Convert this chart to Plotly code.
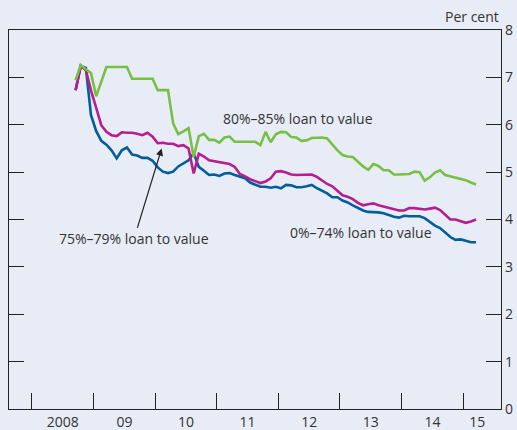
import plotly.graph_objects as go

# Monthly data, Sep 2008 (month index 8) to Mar 2015 (month index 86)
start_month = 8
ltv_80_85 = [6.94, 7.26, 7.17, 7.09, 6.60, 6.91, 7.22, 7.22, 7.22, 7.22, 7.22,
             6.97, 6.97, 6.97, 6.97, 6.97, 6.73, 6.73, 6.73, 6.03, 5.80, 5.86,
             5.93, 5.32, 5.76, 5.81, 5.68, 5.68, 5.62, 5.73, 5.75, 5.64, 5.64,
             5.64, 5.64, 5.64, 5.57, 5.85, 5.63, 5.80, 5.85, 5.84, 5.74, 5.73,
             5.66, 5.67, 5.72, 5.73, 5.73, 5.71, 5.58, 5.46, 5.36, 5.33, 5.32,
             5.22, 5.12, 5.05, 5.17, 5.13, 5.04, 5.04, 4.95, 4.95, 4.95, 4.96,
             5.01, 5.00, 4.82, 4.89, 4.99, 5.04, 4.94, 4.91, 4.89, 4.86, 4.83,
             4.78, 4.74]
ltv_75_79 = [6.73, 7.24, 7.15, 6.72, 6.36, 5.99, 5.85, 5.78, 5.76, 5.84, 5.83,
             5.83, 5.81, 5.78, 5.83, 5.75, 5.61, 5.62, 5.60, 5.60, 5.55, 5.57,
             5.50, 4.97, 5.39, 5.33, 5.25, 5.23, 5.22, 5.20, 5.17, 5.11, 4.96,
             4.91, 4.85, 4.81, 4.77, 4.80, 4.87, 5.01, 5.02, 4.99, 4.95, 4.94,
             4.94, 4.94, 4.95, 4.90, 4.82, 4.75, 4.70, 4.60, 4.51, 4.48, 4.43,
             4.35, 4.30, 4.32, 4.34, 4.30, 4.27, 4.25, 4.22, 4.19, 4.19, 4.24,
             4.24, 4.22, 4.21, 4.23, 4.25, 4.20, 4.09, 4.00, 4.00, 3.97, 3.93,
             3.96, 4.00]
ltv_0_74 = [6.73, 7.24, 7.20, 6.20, 5.87, 5.66, 5.58, 5.46, 5.29, 5.46, 5.52,
            5.37, 5.35, 5.30, 5.30, 5.24, 5.10, 5.01, 4.98, 5.01, 5.12, 5.19,
            5.25, 5.40, 5.11, 5.03, 4.94, 4.95, 4.92, 4.97, 4.98, 4.94, 4.91,
            4.87, 4.78, 4.73, 4.69, 4.69, 4.67, 4.69, 4.66, 4.73, 4.72, 4.68,
            4.68, 4.70, 4.73, 4.66, 4.61, 4.55, 4.47, 4.47, 4.40, 4.36, 4.30,
            4.24, 4.19, 4.16, 4.16, 4.15, 4.13, 4.09, 4.06, 4.04, 4.08, 4.07,
            4.07, 4.07, 4.03, 3.95, 3.87, 3.82, 3.73, 3.63, 3.57, 3.58, 3.55,
            3.52, 3.52]

year_labels = ["2008", "09", "10", "11", "12", "13", "14", "15"]
year_label_pos = [2008.5, 2009.5, 2010.5, 2011.5, 2012.5, 2013.5, 2014.5, 2015.23]
y_ticks = [0, 1, 2, 3, 4, 5, 6, 7, 8]

x_dates = [2008 + (start_month + i + 0.5) / 12 for i in range(len(ltv_0_74))]

BG = "#E8ECF6"
TXT = "#333333"
FONT = "Open Sans"
FS = 14

fig = go.Figure()
fig.add_trace(go.Scatter(x=x_dates, y=ltv_0_74, mode="lines",
                         line=dict(color="#005E98", width=2.6), name="0%-74%"))
fig.add_trace(go.Scatter(x=x_dates, y=ltv_75_79, mode="lines",
                         line=dict(color="#B41E8E", width=2.6), name="75%-79%"))
fig.add_trace(go.Scatter(x=x_dates, y=ltv_80_85, mode="lines",
                         line=dict(color="#78C043", width=2.6), name="80%-85%"))

fig.update_layout(
    width=517, height=430,
    margin=dict(l=9, r=16, t=30, b=21, autoexpand=False),
    paper_bgcolor=BG, plot_bgcolor=BG,
    showlegend=False,
    font=dict(family=FONT, size=FS, color=TXT),
    xaxis=dict(
        range=[2007.627, 2015.614], automargin=False,
        tickmode="array", tickvals=year_label_pos, ticktext=year_labels,
        ticks="", showgrid=False, zeroline=False,
        showline=True, linecolor="#222222", linewidth=1.3, mirror=True,
        tickfont=dict(family=FONT, size=FS, color=TXT),
        minor=dict(ticks="inside", tick0=2008, dtick=1, ticklen=16,
                   tickwidth=1.3, tickcolor="#222222", showgrid=False),
    ),
    yaxis=dict(
        range=[0, 8], side="right", automargin=False,
        tickmode="array", tickvals=y_ticks,
        ticks="inside", ticklen=15, tickwidth=1.3, tickcolor="#222222",
        showgrid=False, zeroline=False,
        showline=True, linecolor="#222222", linewidth=1.3, mirror="ticks",
        tickfont=dict(family=FONT, size=FS, color=TXT),
    ),
    annotations=[
        dict(text="Per cent", xref="paper", yref="paper", x=1.0, y=1.0,
             xanchor="right", yanchor="bottom", yshift=2, showarrow=False,
             font=dict(family=FONT, size=FS, color=TXT)),
        dict(text="80%–85% loan to value", x=2012.318, y=6.14,
             xref="x", yref="y", showarrow=False,
             font=dict(family=FONT, size=FS, color=TXT)),
        dict(text="0%–74% loan to value", x=2013.341, y=3.73,
             xref="x", yref="y", showarrow=False,
             font=dict(family=FONT, size=FS, color=TXT)),
        dict(text="75%–79% loan to value", x=2010.105, y=5.50,
             ax=2009.656, ay=3.59, xref="x", yref="y", axref="x", ayref="y",
             showarrow=True, arrowhead=2, arrowsize=1.2, arrowwidth=1.2,
             arrowcolor="#222222",
             font=dict(family=FONT, size=FS, color=TXT)),
    ],
)

fig.write_html(
    "out.html",
    config={"displayModeBar": False, "responsive": False},
    post_script=(
        "document.documentElement.style.margin='0';"
        "document.documentElement.style.padding='0';"
        "document.documentElement.style.overflow='hidden';"
        "document.body.style.margin='0';"
        "document.body.style.padding='0';"
        "document.body.style.overflow='hidden';"
        "document.body.style.background='" + BG + "';"
    ),
)
